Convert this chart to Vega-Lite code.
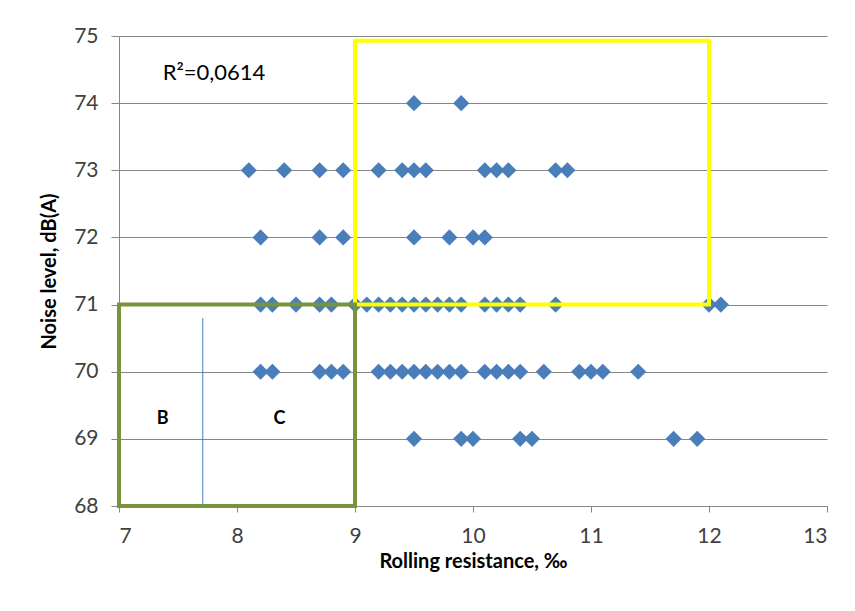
{
  "$schema": "https://vega.github.io/schema/vega-lite/v6.json",
  "autosize": "none",
  "width": 708,
  "height": 470,
  "padding": {"left": 119, "top": 36, "right": 28, "bottom": 105},
  "background": "white",
  "config": {"view": {"stroke": null}, "font": "Lato"},
  "datasets": {
    "points": [
      {"rr": 9.5, "noise": 74}, {"rr": 9.9, "noise": 74},
      {"rr": 8.1, "noise": 73}, {"rr": 8.4, "noise": 73}, {"rr": 8.7, "noise": 73}, {"rr": 8.9, "noise": 73},
      {"rr": 9.2, "noise": 73}, {"rr": 9.4, "noise": 73}, {"rr": 9.5, "noise": 73}, {"rr": 9.6, "noise": 73},
      {"rr": 10.1, "noise": 73}, {"rr": 10.2, "noise": 73}, {"rr": 10.3, "noise": 73}, {"rr": 10.7, "noise": 73}, {"rr": 10.8, "noise": 73},
      {"rr": 8.2, "noise": 72}, {"rr": 8.7, "noise": 72}, {"rr": 8.9, "noise": 72}, {"rr": 9.5, "noise": 72},
      {"rr": 9.8, "noise": 72}, {"rr": 10.0, "noise": 72}, {"rr": 10.1, "noise": 72},
      {"rr": 8.2, "noise": 71}, {"rr": 8.3, "noise": 71}, {"rr": 8.5, "noise": 71}, {"rr": 8.7, "noise": 71}, {"rr": 8.8, "noise": 71},
      {"rr": 9.0, "noise": 71}, {"rr": 9.1, "noise": 71}, {"rr": 9.2, "noise": 71}, {"rr": 9.3, "noise": 71}, {"rr": 9.4, "noise": 71},
      {"rr": 9.5, "noise": 71}, {"rr": 9.6, "noise": 71}, {"rr": 9.7, "noise": 71}, {"rr": 9.8, "noise": 71}, {"rr": 9.9, "noise": 71},
      {"rr": 10.1, "noise": 71}, {"rr": 10.2, "noise": 71}, {"rr": 10.3, "noise": 71}, {"rr": 10.4, "noise": 71}, {"rr": 10.7, "noise": 71},
      {"rr": 12.0, "noise": 71}, {"rr": 12.1, "noise": 71},
      {"rr": 8.2, "noise": 70}, {"rr": 8.3, "noise": 70}, {"rr": 8.7, "noise": 70}, {"rr": 8.8, "noise": 70}, {"rr": 8.9, "noise": 70},
      {"rr": 9.2, "noise": 70}, {"rr": 9.3, "noise": 70}, {"rr": 9.4, "noise": 70}, {"rr": 9.5, "noise": 70}, {"rr": 9.6, "noise": 70},
      {"rr": 9.7, "noise": 70}, {"rr": 9.8, "noise": 70}, {"rr": 9.9, "noise": 70},
      {"rr": 10.1, "noise": 70}, {"rr": 10.2, "noise": 70}, {"rr": 10.3, "noise": 70}, {"rr": 10.4, "noise": 70}, {"rr": 10.6, "noise": 70},
      {"rr": 10.9, "noise": 70}, {"rr": 11.0, "noise": 70}, {"rr": 11.1, "noise": 70}, {"rr": 11.4, "noise": 70},
      {"rr": 9.5, "noise": 69}, {"rr": 9.9, "noise": 69}, {"rr": 10.0, "noise": 69}, {"rr": 10.4, "noise": 69},
      {"rr": 10.5, "noise": 69}, {"rr": 11.7, "noise": 69}, {"rr": 11.9, "noise": 69}
    ],
    "boxes": [
      {"name": "yellow", "x1": 9, "x2": 12, "y1": 71, "y2": 74.93},
      {"name": "green", "x1": 7, "x2": 9, "y1": 68, "y2": 71}
    ],
    "divider": [{"x": 7.71, "y1": 68, "y2": 70.8}],
    "letters": [
      {"label": "B", "x": 7.37, "y": 69.29},
      {"label": "C", "x": 8.36, "y": 69.29}
    ],
    "rsq": [{"label": "R²=0,0614", "x": 7.37, "y": 74.45}]
  },
  "layer": [
    {
      "data": {"name": "points"},
      "mark": {"type": "point", "shape": "diamond", "filled": true, "size": 260, "color": "#4A7EBB", "opacity": 1},
      "encoding": {
        "x": {
          "field": "rr", "type": "quantitative",
          "scale": {"domain": [7, 13], "nice": false, "zero": false},
          "axis": {
            "title": "Rolling resistance, ‰", "values": [7, 8, 9, 10, 11, 12, 13], "format": "d",
            "grid": false, "domainColor": "#868686", "tickColor": "#868686", "tickSize": 6,
            "labelFont": "Lato", "labelFontSize": 21, "labelColor": "#404040", "labelPadding": 13,
            "titleFont": "Lato", "titleFontSize": 20, "titleFontWeight": "bold", "titleColor": "#000000", "titlePadding": 5
          }
        },
        "y": {
          "field": "noise", "type": "quantitative",
          "scale": {"domain": [68, 75], "nice": false, "zero": false},
          "axis": {
            "title": "Noise level, dB(A)", "values": [68, 69, 70, 71, 72, 73, 74, 75], "format": "d",
            "grid": true, "gridColor": "#868686", "gridWidth": 1,
            "domainColor": "#868686", "tickColor": "#868686", "tickSize": 8,
            "labelFont": "Lato", "labelFontSize": 21, "labelColor": "#404040", "labelPadding": 13,
            "titleFont": "Lato", "titleFontSize": 20, "titleFontWeight": "bold", "titleColor": "#000000", "titlePadding": 14
          }
        }
      }
    },
    {
      "data": {"name": "divider"},
      "mark": {"type": "rule", "color": "#4A7EBB", "strokeWidth": 1},
      "encoding": {
        "x": {"field": "x", "type": "quantitative"},
        "y": {"field": "y1", "type": "quantitative"},
        "y2": {"field": "y2"}
      }
    },
    {
      "data": {"name": "boxes"},
      "mark": {"type": "rect", "filled": false, "strokeWidth": 4, "clip": false},
      "encoding": {
        "x": {"field": "x1", "type": "quantitative"},
        "x2": {"field": "x2"},
        "y": {"field": "y1", "type": "quantitative"},
        "y2": {"field": "y2"},
        "stroke": {
          "field": "name", "type": "nominal",
          "scale": {"domain": ["yellow", "green"], "range": ["#FFFF00", "#77933C"]},
          "legend": null
        }
      }
    },
    {
      "data": {"name": "letters"},
      "mark": {"type": "text", "fontSize": 18, "fontWeight": "bold", "color": "#000000", "font": "Lato"},
      "encoding": {
        "x": {"field": "x", "type": "quantitative"},
        "y": {"field": "y", "type": "quantitative"},
        "text": {"field": "label"}
      }
    },
    {
      "data": {"name": "rsq"},
      "mark": {"type": "text", "fontSize": 22, "align": "left", "color": "#000000", "font": "Lato"},
      "encoding": {
        "x": {"field": "x", "type": "quantitative"},
        "y": {"field": "y", "type": "quantitative"},
        "text": {"field": "label"}
      }
    }
  ]
}
